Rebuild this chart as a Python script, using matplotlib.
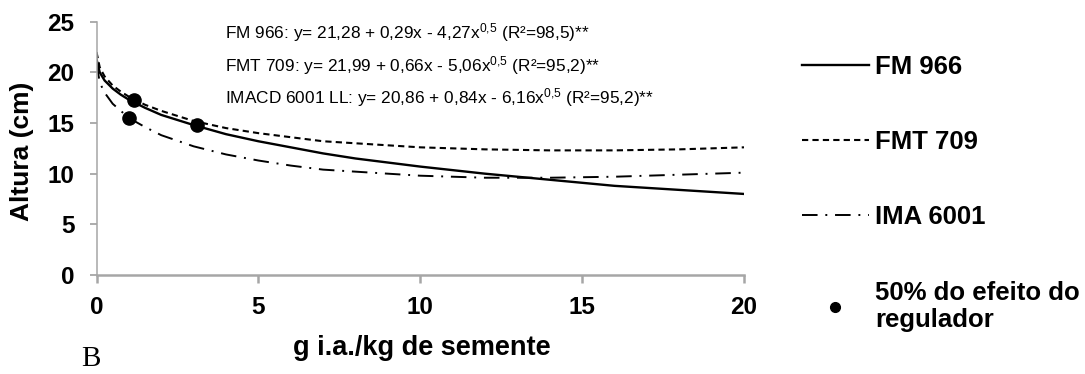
import matplotlib
matplotlib.use("Agg")
import matplotlib.pyplot as plt

plt.rcParams["font.family"] = ["Liberation Sans", "DejaVu Sans"]
plt.rcParams["mathtext.default"] = "regular"

# dose (g i.a./kg de semente) and plant height (cm) per cultivar
dose = [0, 0.1, 0.25, 0.5, 0.75, 1, 1.5, 2, 3, 4, 5, 6, 7, 8, 10, 12, 14, 16, 18, 20]
fm966 = [21.3, 20.0, 19.2, 18.4, 17.8, 17.3, 16.5, 15.8, 14.8, 13.9, 13.2, 12.6, 12.0, 11.5,
         10.7, 10.0, 9.4, 8.8, 8.4, 8.0]
fmt709 = [22.0, 20.5, 19.6, 18.7, 18.1, 17.6, 16.8, 16.2, 15.2, 14.5, 14.0, 13.6, 13.2, 13.0,
          12.6, 12.4, 12.3, 12.3, 12.4, 12.6]
ima6001 = [20.9, 19.0, 18.0, 16.9, 16.2, 15.5, 14.6, 13.8, 12.7, 11.9, 11.3, 10.8, 10.4, 10.2,
           9.8, 9.6, 9.6, 9.7, 9.9, 10.1]

# doses giving 50% of the regulator effect
half_x = [1.15, 1.0, 3.1]
half_y = [17.3, 15.5, 14.8]

equations = [
    "FM 966: y= 21,28 + 0,29x - 4,27x$^{0{,}5}$ (R²=98,5)**",
    "FMT 709: y= 21,99 + 0,66x - 5,06x$^{0{,}5}$ (R²=95,2)**",
    "IMACD 6001 LL: y= 20,86 + 0,84x - 6,16x$^{0{,}5}$ (R²=95,2)**",
]

W, H = 1085, 374
fig = plt.figure(figsize=(W / 100, H / 100), dpi=100)
ax = fig.add_axes([96.5 / W, 1 - 275 / H, (744 - 96.5) / W, (275 - 21.7) / H])

ax.plot(dose, fm966, color="black", lw=1.7, label="FM 966")
ax.plot(dose, fmt709, color="black", lw=1.5, dashes=(3, 2), label="FMT 709")
ax.plot(dose, ima6001, color="black", lw=1.4, dashes=(8, 4, 1, 4), label="IMA 6001")
ax.plot(half_x, half_y, "o", color="black", ms=9.5, zorder=5)
# legend-only handle with a smaller dot
ax.plot([], [], "o", color="black", ms=7, label="50% do efeito do\nregulador")

ax.set_xlim(0, 20)
ax.set_ylim(0, 25)
ax.set_xticks([0, 5, 10, 15, 20])
ax.set_yticks([0, 5, 10, 15, 20, 25])
for s in ["top", "right"]:
    ax.spines[s].set_visible(False)
ax.spines["left"].set_color("#a6a6a6")
ax.spines["left"].set_linewidth(1.1)
ax.spines["bottom"].set_color("#a6a6a6")
ax.spines["bottom"].set_linewidth(1.8)
ax.tick_params(axis="y", direction="out", length=5, width=1.3, color="#a6a6a6", pad=11,
               labelsize=17.5)
ax.tick_params(axis="x", direction="out", length=6, width=1.8, color="#a6a6a6", pad=9,
               labelsize=17.5)
for lab in ax.get_xticklabels() + ax.get_yticklabels():
    lab.set_fontweight("bold")

for i, eq in enumerate(equations):
    fig.text(225 / W, 1 - (33 + 32.5 * i) / H, eq, fontsize=12.4, va="center", ha="left")

fig.text(22 / W, 1 - 151 / H, "Altura (cm)", rotation=90, fontsize=19, fontweight="bold",
         va="center", ha="center")
fig.text(421.5 / W, 1 - 348 / H, "g i.a./kg de semente", fontsize=19.5, fontweight="bold",
         va="center", ha="center")
fig.text(81 / W, 1 - 359 / H, "B", fontsize=21, family="Liberation Serif", va="center",
         ha="left")

leg = ax.legend(loc="upper left", bbox_to_anchor=(802 / W, 1 - 54.5 / H),
                bbox_transform=fig.transFigure, frameon=False, fontsize=18.5,
                handlelength=2.6, handletextpad=0.25, labelspacing=2.0,
                borderpad=0, borderaxespad=0, numpoints=1)
for t in leg.get_texts():
    t.set_fontweight("bold")

fig.savefig("out.png", dpi=100)
